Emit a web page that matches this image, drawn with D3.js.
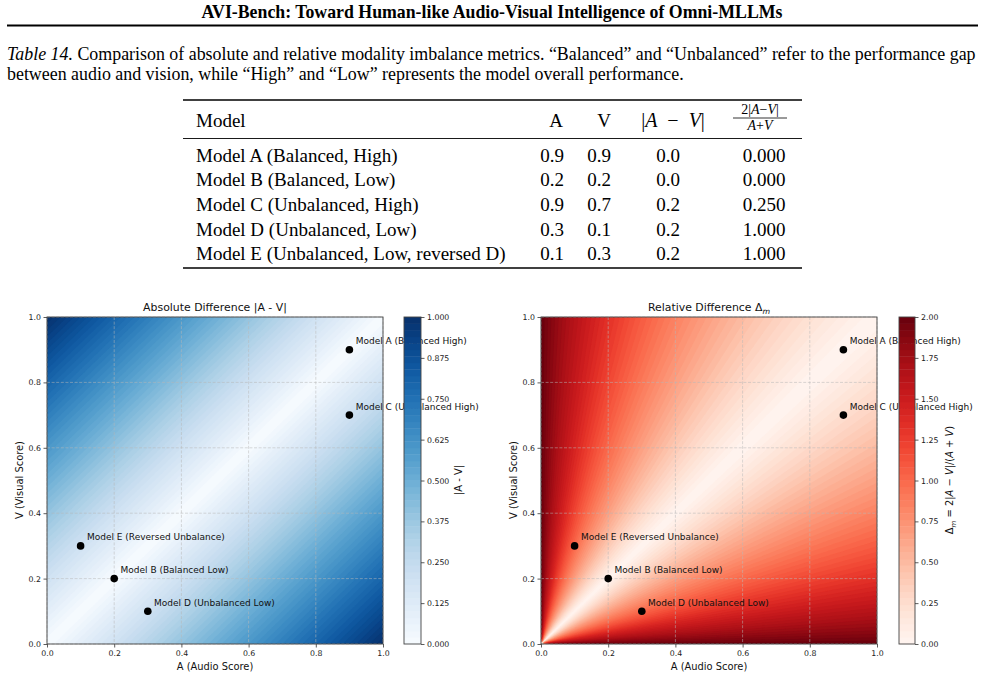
<!DOCTYPE html>
<meta charset="utf-8">
<title>AVI-Bench Table 14</title>
<style>
body { margin: 0; background: #fff; }
svg { display: block; background: #fff; }
.serif { font-family: "Liberation Serif", "Times New Roman", serif; fill: #000; }
.sans { font-family: "DejaVu Sans", sans-serif; fill: #111; }
.tick text { font-family: "DejaVu Sans", sans-serif; font-size: 7.8px; fill: #222; }
.tick line { stroke: #333; stroke-width: 0.8px; }
</style>
<svg></svg>
<script src="https://cdn.jsdelivr.net/npm/d3@7"></script>
<script>
// table data
var models = ["Model A (Balanced, High)", "Model B (Balanced, Low)", "Model C (Unbalanced, High)",
              "Model D (Unbalanced, Low)", "Model E (Unbalanced, Low, reversed D)"];
var audio = [0.9, 0.2, 0.9, 0.3, 0.1];
var visual = [0.9, 0.2, 0.7, 0.1, 0.3];
var absDiff = ["0.0", "0.0", "0.2", "0.2", "0.2"];
var relDiff = ["0.000", "0.000", "0.250", "1.000", "1.000"];
// labels in the scatter plots
var pointLabels = ["Model A (Balanced High)", "Model B (Balanced Low)", "Model C (Unbalanced High)",
                   "Model D (Unbalanced Low)", "Model E (Reversed Unbalance)"];
var axisTicks = [0, 0.2, 0.4, 0.6, 0.8, 1.0];
var absTicks = [0, 0.125, 0.25, 0.375, 0.5, 0.625, 0.75, 0.875, 1.0];
var relTicks = [0, 0.25, 0.5, 0.75, 1.0, 1.25, 1.5, 1.75, 2.0];
var nLevels = 50;

var width = 985, height = 679;
var svg = d3.select("svg").attr("width", width).attr("height", height);

// ---- page header
svg.append("text").attr("class", "serif")
    .attr("x", 492).attr("y", 18)
    .attr("text-anchor", "middle")
    .style("font-size", "17.8px").style("font-weight", "bold")
    .text("AVI-Bench: Toward Human-like Audio-Visual Intelligence of Omni-MLLMs");
svg.append("line").attr("x1", 7).attr("x2", 978).attr("y1", 25.5).attr("y2", 25.5)
    .style("stroke", "#000").style("stroke-width", 2);

// caption
var cap1 = svg.append("text").attr("class", "serif").attr("x", 7).attr("y", 60).style("font-size", "17.9px");
cap1.append("tspan").style("font-style", "italic").text("Table 14.");
cap1.append("tspan").text(" Comparison of absolute and relative modality imbalance metrics. \u201cBalanced\u201d and \u201cUnbalanced\u201d refer to the performance gap");
svg.append("text").attr("class", "serif").attr("x", 7).attr("y", 80).style("font-size", "17.9px")
    .text("between audio and vision, while \u201cHigh\u201d and \u201cLow\u201d represents the model overall performance.");

// ---- table
var tbl = svg.append("g");
var colX = [196, 552, 599, 668, 764];
var headX = [196, 556, 604, 673, 760];
var rowY = d3.range(models.length).map(function(i) { return 161.5 + i * 24.7; });
tbl.append("line").attr("x1", 183).attr("x2", 802).attr("y1", 100).attr("y2", 100).style("stroke", "#000").style("stroke-width", 1.6);
tbl.append("line").attr("x1", 183).attr("x2", 802).attr("y1", 138.5).attr("y2", 138.5).style("stroke", "#000").style("stroke-width", 0.9);
tbl.append("line").attr("x1", 183).attr("x2", 802).attr("y1", 268).attr("y2", 268).style("stroke", "#000").style("stroke-width", 1.6);

tbl.append("text").attr("class", "serif").attr("x", headX[0]).attr("y", 127).style("font-size", "19px").text("Model");
tbl.append("text").attr("class", "serif").attr("x", headX[1]).attr("y", 127).attr("text-anchor", "middle").style("font-size", "19px").text("A");
tbl.append("text").attr("class", "serif").attr("x", headX[2]).attr("y", 127).attr("text-anchor", "middle").style("font-size", "19px").text("V");
var h3 = tbl.append("text").attr("class", "serif").attr("x", headX[3]).attr("y", 127).attr("text-anchor", "middle").style("font-size", "20px");
h3.append("tspan").text("|");
h3.append("tspan").style("font-style", "italic").text("A");
h3.append("tspan").text("\u2002\u2212\u2002");
h3.append("tspan").style("font-style", "italic").text("V");
h3.append("tspan").text("|");
var num = tbl.append("text").attr("class", "serif").attr("x", headX[4]).attr("y", 114).attr("text-anchor", "middle").style("font-size", "14px");
num.append("tspan").text("2|");
num.append("tspan").style("font-style", "italic").text("A");
num.append("tspan").text("\u2212");
num.append("tspan").style("font-style", "italic").text("V");
num.append("tspan").text("|");
tbl.append("line").attr("x1", headX[4] - 27).attr("x2", headX[4] + 27).attr("y1", 118).attr("y2", 118).style("stroke", "#000").style("stroke-width", 0.8);
var den = tbl.append("text").attr("class", "serif").attr("x", headX[4]).attr("y", 130).attr("text-anchor", "middle").style("font-size", "14px");
den.append("tspan").style("font-style", "italic").text("A");
den.append("tspan").text("+");
den.append("tspan").style("font-style", "italic").text("V");

var cols = [models, audio.map(function(d) { return d.toFixed(1); }), visual.map(function(d) { return d.toFixed(1); }), absDiff, relDiff];
cols.forEach(function(col, c) {
  tbl.selectAll(null).data(col).enter().append("text")
      .attr("class", "serif")
      .attr("x", colX[c])
      .attr("y", function(d, i) { return rowY[i]; })
      .attr("text-anchor", c == 0 ? "start" : "middle")
      .style("font-size", "19px")
      .text(function(d) { return d; });
});

// ---- heatmap panels
var pts = audio.map(function(a, i) { return { a: a, v: visual[i], label: pointLabels[i] }; });

function panel(cfg) {
  var g = svg.append("g");
  var x = d3.scaleLinear().domain([0, 1]).range([cfg.x0, cfg.x1]);
  var y = d3.scaleLinear().domain([0, 1]).range([644, 317]);
  var color = function(t) { return cfg.interp(t / cfg.max); };

  // field on a grid, from the metric definition
  var n = 160, values = new Array(n * n);
  for (var j = 0; j < n; j++) for (var i = 0; i < n; i++) {
    values[j * n + i] = cfg.f((i + 0.5) / n, 1 - (j + 0.5) / n);
  }
  var levels = d3.range(nLevels + 1).map(function(k) { return k * cfg.max / nLevels; });
  var contours = d3.contours().size([n, n]).thresholds(levels.slice(0, nLevels))(values);

  var clipId = "clip" + cfg.id;
  g.append("clipPath").attr("id", clipId).append("rect")
      .attr("x", cfg.x0).attr("y", 317).attr("width", cfg.x1 - cfg.x0).attr("height", 644 - 317);
  g.append("g").attr("clip-path", "url(#" + clipId + ")")
    .append("g")
      .attr("transform", "translate(" + cfg.x0 + ",317) scale(" + (cfg.x1 - cfg.x0) / n + "," + (644 - 317) / n + ")")
    .selectAll("path").data(contours).enter().append("path")
      .attr("d", d3.geoPath())
      .style("fill", function(d, k) { return color((levels[k] + levels[k + 1]) / 2); })
      .style("stroke", function(d, k) { return color((levels[k] + levels[k + 1]) / 2); })
      .style("stroke-width", 0.02);

  // grid
  var grid = g.append("g").style("stroke", "#b8b8b8").style("stroke-opacity", 0.65)
      .style("stroke-dasharray", "3,1.6").style("stroke-width", 0.8);
  grid.selectAll(null).data(axisTicks).enter().append("line")
      .attr("x1", function(d) { return x(d); }).attr("x2", function(d) { return x(d); })
      .attr("y1", 317).attr("y2", 644);
  grid.selectAll(null).data(axisTicks).enter().append("line")
      .attr("y1", function(d) { return y(d); }).attr("y2", function(d) { return y(d); })
      .attr("x1", cfg.x0).attr("x2", cfg.x1);

  // axes
  g.append("g").attr("transform", "translate(0,644)")
      .call(d3.axisBottom(x).tickValues(axisTicks).tickFormat(d3.format(".1f")).tickSize(3.5).tickPadding(2.5))
      .call(function(s) { s.select(".domain").remove(); });
  g.append("g").attr("transform", "translate(" + cfg.x0 + ",0)")
      .call(d3.axisLeft(y).tickValues(axisTicks).tickFormat(d3.format(".1f")).tickSize(3.5).tickPadding(2.5))
      .call(function(s) { s.select(".domain").remove(); });

  // points and their labels
  g.selectAll(null).data(pts).enter().append("circle")
      .attr("cx", function(d) { return x(d.a); })
      .attr("cy", function(d) { return y(d.v); })
      .attr("r", 3.8).style("fill", "#000");
  g.selectAll(null).data(pts).enter().append("text")
      .attr("class", "sans")
      .attr("x", function(d) { return x(d.a) + 6.3; })
      .attr("y", function(d) { return y(d.v) - 5.5; })
      .style("font-size", "9px")
      .text(function(d) { return d.label; });

  // frame
  g.append("rect").attr("x", cfg.x0).attr("y", 317).attr("width", cfg.x1 - cfg.x0).attr("height", 644 - 317)
      .style("fill", "none").style("stroke", "#444").style("stroke-width", 0.9);

  // titles
  cfg.title(g.append("text").attr("class", "sans")
      .attr("x", (cfg.x0 + cfg.x1) / 2).attr("y", 311).attr("text-anchor", "middle")
      .style("font-size", "10.9px"));
  g.append("text").attr("class", "sans")
      .attr("x", (cfg.x0 + cfg.x1) / 2).attr("y", 670).attr("text-anchor", "middle")
      .style("font-size", "9.9px").text("A (Audio Score)");
  g.append("text").attr("class", "sans")
      .attr("transform", "translate(" + (cfg.x0 - 24) + ",480) rotate(-90)")
      .attr("text-anchor", "middle")
      .style("font-size", "9.9px").text("V (Visual Score)");

  // colorbar
  var cb = svg.append("g");
  var cy = d3.scaleLinear().domain([0, cfg.max]).range([644, 317]);
  cb.selectAll(null).data(d3.range(nLevels)).enter().append("rect")
      .attr("x", cfg.cb0).attr("width", cfg.cb1 - cfg.cb0)
      .attr("y", function(k) { return cy(levels[k + 1]); })
      .attr("height", function(k) { return cy(levels[k]) - cy(levels[k + 1]) + 0.4; })
      .style("fill", function(k) { return color((levels[k] + levels[k + 1]) / 2); });
  cb.append("rect").attr("x", cfg.cb0).attr("y", 317).attr("width", cfg.cb1 - cfg.cb0).attr("height", 644 - 317)
      .style("fill", "none").style("stroke", "#444").style("stroke-width", 0.9);
  cb.append("g").attr("transform", "translate(" + cfg.cb1 + ",0)")
      .call(d3.axisRight(cy).tickValues(cfg.ticks).tickFormat(d3.format(cfg.fmt)).tickSize(3.5).tickPadding(2.5))
      .call(function(s) { s.select(".domain").remove(); });
  cfg.cbLabel(cb.append("text").attr("class", "sans")
      .attr("transform", "translate(" + cfg.labelX + ",480) rotate(-90)")
      .attr("text-anchor", "middle")
      .style("font-size", "9.9px"));
}

panel({
  id: "abs", x0: 47, x1: 383, cb0: 404, cb1: 421, max: 1, labelX: 462,
  interp: d3.interpolateBlues, ticks: absTicks, fmt: ".3f",
  f: function(a, v) { return Math.abs(a - v); },
  title: function(t) { t.text("Absolute Difference |A - V|"); },
  cbLabel: function(t) { t.text("|A - V|"); }
});

panel({
  id: "rel", x0: 541, x1: 877, cb0: 899, cb1: 915, max: 2, labelX: 953,
  interp: d3.interpolateReds, ticks: relTicks, fmt: ".2f",
  f: function(a, v) { return a + v > 0 ? 2 * Math.abs(a - v) / (a + v) : 0; },
  title: function(t) {
    t.append("tspan").text("Relative Difference \u0394");
    t.append("tspan").attr("dy", 2.5).style("font-size", "7.8px").style("font-style", "italic").text("m");
  },
  cbLabel: function(t) {
    t.append("tspan").text("\u0394");
    t.append("tspan").attr("dy", 2.5).style("font-size", "7px").style("font-style", "italic").text("m");
    t.append("tspan").attr("dy", -2.5).text(" = 2|");
    t.append("tspan").style("font-style", "italic").text("A");
    t.append("tspan").text(" \u2212 ");
    t.append("tspan").style("font-style", "italic").text("V");
    t.append("tspan").text("|/(");
    t.append("tspan").style("font-style", "italic").text("A");
    t.append("tspan").text(" + ");
    t.append("tspan").style("font-style", "italic").text("V");
    t.append("tspan").text(")");
  }
});
</script>
